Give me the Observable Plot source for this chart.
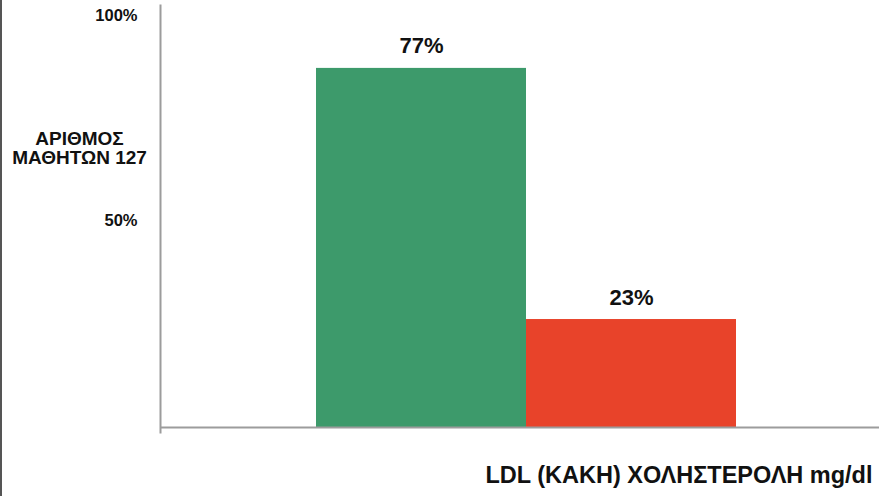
<!DOCTYPE html>
<html>
<head>
<meta charset="utf-8">
<script src="https://cdn.jsdelivr.net/npm/d3@7"></script>
<script src="https://cdn.jsdelivr.net/npm/@observablehq/plot@0.6"></script>
<style>
  html, body { margin: 0; padding: 0; background: #fff; }
  #chart svg { display: block; box-shadow: inset 2px 0 #555; background: #fff; }
</style>
</head>
<body>
<div id="chart"></div>
<script>
// Categories (two LDL groups), bar heights read against the drawn % axis, and printed labels
const categories = ["A", "B"];
const barValues = [87.8, 26.4];
const barLabels = ["77%", "23%"];
const barColors = ["#3d9a6b", "#e8432a"];
const yTickValues = [50, 100];
const yTickLabels = ["50%", "100%"];
const yTitle = "ΑΡΙΘΜΟΣ\nΜΑΘΗΤΩΝ 127";
const xTitle = "LDL (ΚΑΚΗ) ΧΟΛΗΣΤΕΡΟΛΗ mg/dl";

const data = categories.map((c, i) => ({cat: c, value: barValues[i], label: barLabels[i], color: barColors[i]}));
const font = "'Liberation Sans', Arial, Helvetica, sans-serif";

const chart = Plot.plot({
  width: 879,
  height: 496,
  marginLeft: 160,
  marginRight: 0,
  marginTop: 18,
  marginBottom: 69,
  style: {fontFamily: font, background: "#fff", color: "#111"},
  x: {domain: categories, range: [316, 736], padding: 0, axis: null},
  y: {domain: [0, 100], axis: null},
  marks: [
    Plot.barY(data, {x: "cat", y: "value", fill: "color"}),
    Plot.ruleY([0], {stroke: "#9c9c9c", strokeWidth: 2}),
    Plot.frame({anchor: "left", stroke: "#9c9c9c", strokeWidth: 2, insetTop: -13, insetBottom: -5}),
    Plot.axisY({
      ticks: yTickValues,
      tickFormat: (d) => yTickLabels[yTickValues.indexOf(d)],
      tickSize: 0,
      tickPadding: 23,
      fontSize: 16.5,
      fontWeight: "bold",
      fill: "#111",
      dy: -2.5,
      label: null
    }),
    Plot.text(data, {
      x: "cat", y: "value", text: "label",
      dy: -22, fontSize: 22, fontWeight: "bold", fill: "#111"
    }),
    Plot.text([yTitle], {
      frameAnchor: "top-left", dx: -81, dy: 112, textAnchor: "middle",
      lineAnchor: "top", lineHeight: 1.04, fontSize: 19, fontWeight: "bold", fill: "#111"
    }),
    Plot.text([xTitle], {
      frameAnchor: "bottom-right", dx: -7, dy: 55, textAnchor: "end",
      fontSize: 23.5, fontWeight: "bold", fill: "#111"
    })
  ]
});
document.getElementById("chart").append(chart);
</script>
</body>
</html>
